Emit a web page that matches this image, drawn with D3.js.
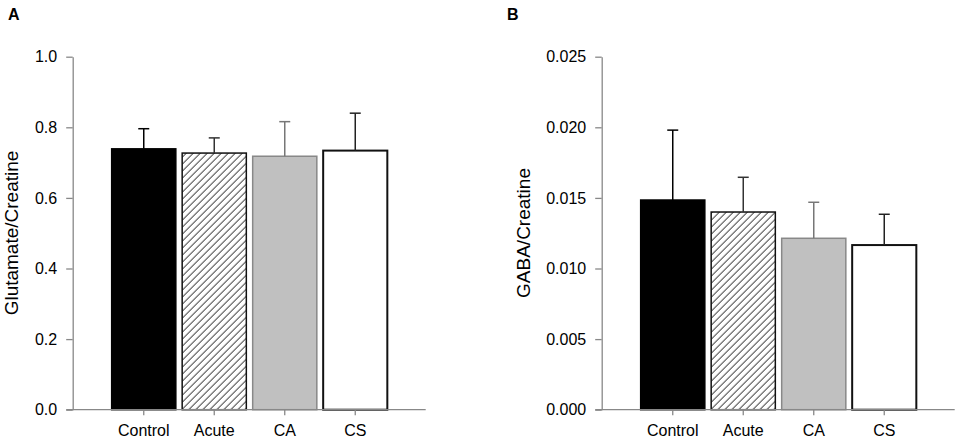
<!DOCTYPE html>
<html>
<head>
<meta charset="utf-8">
<script src="https://cdn.jsdelivr.net/npm/d3@7"></script>
<style>
    body { margin: 0; background: #fff; }
    text { font-family: "Liberation Sans", Arial, sans-serif; fill: #000; }
    .tickTxt { font-size: 16px; }
    .ylabel { font-size: 19px; }
    .panelTag { font-size: 16px; font-weight: bold; }
</style>
</head>
<body>
<div id="grf"></div>
<script>
// groups on the x axis
const groups = ["Control", "Acute", "CA", "CS"];

// panel A: glutamate / creatine (mean and upper error)
const gluMean = [0.739, 0.727, 0.718, 0.734];
const gluErr = [0.796, 0.770, 0.816, 0.840];
const gluTicks = [0.0, 0.2, 0.4, 0.6, 0.8, 1.0];

// panel B: GABA / creatine
const gabaMean = [0.01485, 0.0140, 0.01214, 0.01166];
const gabaErr = [0.0198, 0.01646, 0.01469, 0.01384];
const gabaTicks = [0.000, 0.005, 0.010, 0.015, 0.020, 0.025];

const W = 957, H = 440;
const plotSize = 353; // square plot area
const plotTop = 56.7;

// bar styling per group
const barFill = ["#000", "url(#hatch)", "#c0c0c0", "#fff"];
const barStroke = ["#000", "#111", "#888", "#111"];
const barStrokeW = [1.5, 1.5, 1.5, 2];
const errStroke = ["#000", "#333", "#777", "#222"];

var svg = d3.select("#grf").append("svg")
    .attr("width", W)
    .attr("height", H);

// diagonal hatching for Acute
var pat = svg.append("defs").append("pattern")
    .attr("id", "hatch")
    .attr("patternUnits", "userSpaceOnUse")
    .attr("width", 7)
    .attr("height", 7);
pat.append("rect").attr("width", 7).attr("height", 7).attr("fill", "#fff");
pat.append("path")
    .attr("d", "M0,7 L7,0 M-1,1 L1,-1 M6,8 L8,6")
    .attr("stroke", "#000")
    .attr("stroke-width", 1);

function drawPanel(left, tag, tagX, label, labelOff, means, errs, ticks, fmt, ymax) {
    var g = svg.append("g")
        .attr("transform", "translate(" + left + "," + plotTop + ")");

    var y = d3.scaleLinear().domain([0, ymax]).range([plotSize, 0]);
    var x = d3.scaleBand()
        .domain(groups)
        .range([35.8, 317.8])
        .paddingInner(0.09)
        .paddingOuter(0.045);

    // panel letter
    svg.append("text")
        .attr("class", "panelTag")
        .attr("x", tagX)
        .attr("y", 20)
        .text(tag);

    // bars
    g.selectAll(".bar").data(groups).enter().append("rect")
        .attr("class", "bar")
        .attr("x", d => x(d))
        .attr("y", (d, i) => y(means[i]))
        .attr("width", x.bandwidth())
        .attr("height", (d, i) => plotSize - y(means[i]))
        .attr("fill", (d, i) => barFill[i])
        .attr("stroke", (d, i) => barStroke[i])
        .attr("stroke-width", (d, i) => barStrokeW[i]);

    // upper error bars
    var eb = g.selectAll(".err").data(groups).enter().append("g")
        .attr("class", "err")
        .attr("stroke", (d, i) => errStroke[i])
        .attr("stroke-width", 1.5);
    eb.append("line")
        .attr("x1", d => x(d) + x.bandwidth() / 2)
        .attr("x2", d => x(d) + x.bandwidth() / 2)
        .attr("y1", (d, i) => y(means[i]))
        .attr("y2", (d, i) => y(errs[i]));
    eb.append("line")
        .attr("x1", d => x(d) + x.bandwidth() / 2 - 5.5)
        .attr("x2", d => x(d) + x.bandwidth() / 2 + 5.5)
        .attr("y1", (d, i) => y(errs[i]))
        .attr("y2", (d, i) => y(errs[i]));

    // y axis
    var yAx = g.append("g")
        .call(d3.axisLeft(y).tickValues(ticks).tickFormat(fmt).tickSize(6.5).tickPadding(9).tickSizeOuter(0));
    yAx.select(".domain").attr("stroke", "#888").attr("stroke-width", 1.3);
    yAx.selectAll(".tick line").attr("stroke", "#888").attr("stroke-width", 1.3);
    yAx.selectAll("text").attr("class", "tickTxt");
    yAx.attr("font-family", null).attr("font-size", null);

    // x axis
    var xAx = g.append("g")
        .attr("transform", "translate(0," + plotSize + ")")
        .call(d3.axisBottom(x).tickSize(5.5).tickPadding(9).tickSizeOuter(0));
    xAx.select(".domain").remove();
    xAx.selectAll(".tick line").attr("stroke", "#888").attr("stroke-width", 1.3);
    xAx.selectAll("text").attr("class", "tickTxt");
    xAx.attr("font-family", null).attr("font-size", null);
    g.append("line")
        .attr("x1", -6.5)
        .attr("x2", plotSize)
        .attr("y1", plotSize)
        .attr("y2", plotSize)
        .attr("stroke", "#888")
        .attr("stroke-width", 1.3);

    // y label
    g.append("text")
        .attr("class", "ylabel")
        .attr("transform", "rotate(-90)")
        .attr("x", -(233 - plotTop))
        .attr("y", -labelOff)
        .attr("text-anchor", "middle")
        .text(label);
}

drawPanel(72.7, "A", 8, "Glutamate/Creatine", 55, gluMean, gluErr, gluTicks, d3.format(".1f"), 1.0);
drawPanel(601.7, "B", 507, "GABA/Creatine", 72, gabaMean, gabaErr, gabaTicks, d3.format(".3f"), 0.025);
</script>
</body>
</html>
